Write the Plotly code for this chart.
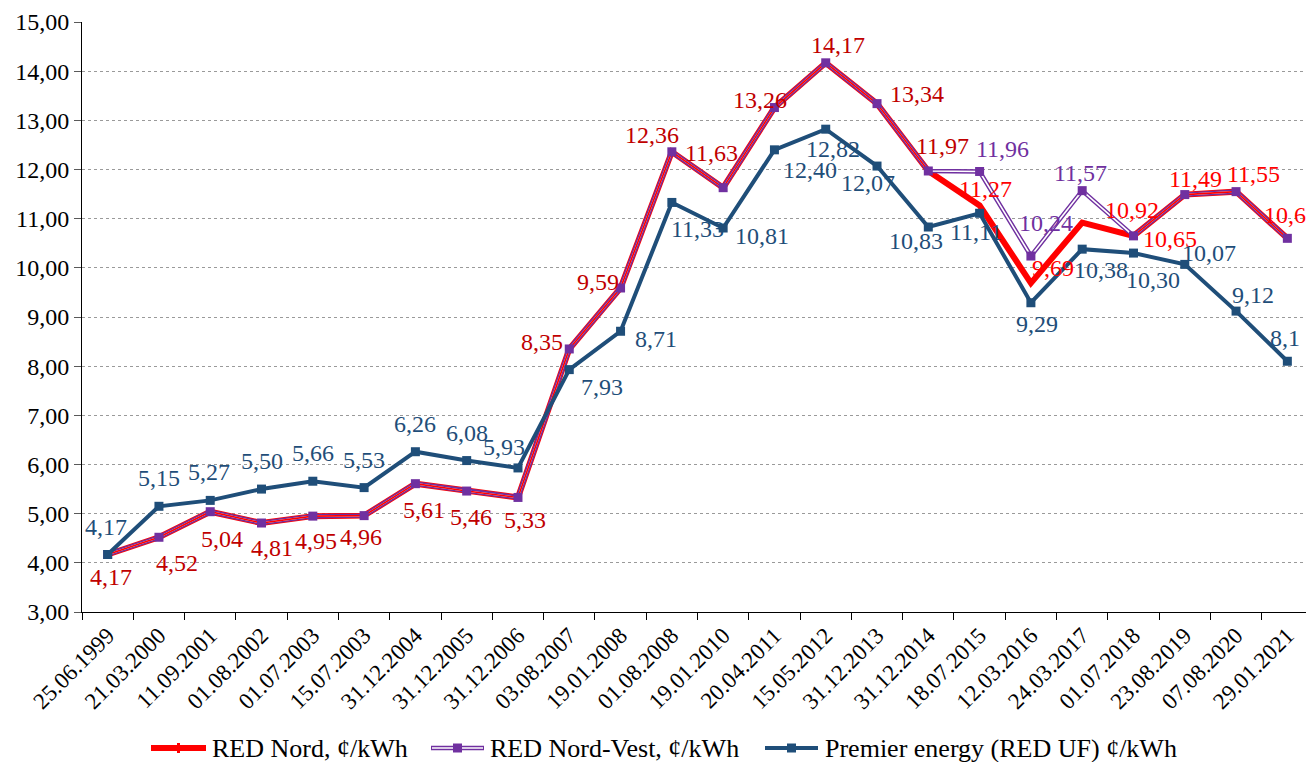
import plotly.graph_objects as go

dates = ["25.06.1999", "21.03.2000", "11.09.2001", "01.08.2002", "01.07.2003", "15.07.2003",
         "31.12.2004", "31.12.2005", "31.12.2006", "03.08.2007", "19.01.2008", "01.08.2008",
         "19.01.2010", "20.04.2011", "15.05.2012", "31.12.2013", "31.12.2014", "18.07.2015",
         "12.03.2016", "24.03.2017", "01.07.2018", "23.08.2019", "07.08.2020", "29.01.2021"]

red_nord = [4.17, 4.52, 5.04, 4.81, 4.95, 4.96, 5.61, 5.46, 5.33, 8.35, 9.59, 12.36,
            11.63, 13.26, 14.17, 13.34, 11.97, 11.27, 9.69, 10.92, 10.65, 11.49, 11.55, 10.6]
red_nord_vest = [4.17, 4.52, 5.04, 4.81, 4.95, 4.96, 5.61, 5.46, 5.33, 8.35, 9.59, 12.36,
                 11.63, 13.26, 14.17, 13.34, 11.97, 11.96, 10.24, 11.57, 10.65, 11.49, 11.55, 10.6]
premier = [4.17, 5.15, 5.27, 5.50, 5.66, 5.53, 6.26, 6.08, 5.93, 7.93, 8.71, 11.33,
           10.81, 12.40, 12.82, 12.07, 10.83, 11.11, 9.29, 10.38, 10.30, 10.07, 9.12, 8.1]

names = ["RED Nord, ¢/kWh", "RED Nord-Vest, ¢/kWh", "Premier energy (RED UF) ¢/kWh"]
one_decimal_idx = {23}  # last values shown with one decimal

# label offsets (screen px: dx right, dy down)
red_off = [(3, 23), (18, 26), (12, 27), (10, 25), (3, 25), (-3, 21), (9, 26), (4, 26), (7, 23),
           (-27, -7), (-23, -6), (-20, -17), (-12, -35), (-14, -8), (12, -18), (40, -10),
           (14, -25), (6, -16), (22, -15), (50, -13), (37, 3), (11, -16), (17, -18), (-2, -23)]
blue_off = [(-2, -27), (0, -28), (-1, -28), (0, -28), (0, -28), (0, -28), (0, -28), (0, -28),
            (-14, -21), (33, 17), (35, 8), (26, 27), (39, 8), (36, 20), (7, 20), (-9, 17),
            (-12, 14), (-4, 19), (6, 21), (19, 21), (20, 27), (24, -11), (17, -16), (-2, -23)]
vest_off = {17: (23, -22), 18: (15, -33), 19: (-2, -18)}

RED = "#FF0000"
DARKRED = "#C00000"
PURPLE = "#7030A0"
BLUE = "#1F4E79"
FONT = "Liberation Serif"

# the page body adds an 8px margin, so the figure is laid out 8px smaller / shifted
OFF = 8
W, H = 1314 - OFF, 762 - OFF
ML, MR, MT = 82 - OFF, 1, 22 - OFF
MB = H - (612 - OFF)
PW, PH = W - ML - MR, H - MT - MB


def px2x(px):
    return (px - OFF - ML) / PW


def py2y(py):
    return (H - MB - (py - OFF)) / PH


def fmt(v, i):
    s = f"{v:.1f}" if i in one_decimal_idx else f"{v:.2f}"
    return s.replace(".", ",")


fig = go.Figure()
fig.add_trace(go.Scatter(x=dates, y=red_nord, mode="lines", name=names[0],
                         line=dict(color=RED, width=6), showlegend=False))
fig.add_trace(go.Scatter(x=dates, y=red_nord_vest, mode="lines", name=names[1],
                         line=dict(color=PURPLE, width=4.5), showlegend=False))
fig.add_trace(go.Scatter(x=dates, y=red_nord_vest, mode="lines", showlegend=False,
                         line=dict(color="white", width=1.6), hoverinfo="skip"))
fig.add_trace(go.Scatter(x=dates, y=red_nord, mode="lines", showlegend=False,
                         line=dict(color=RED, width=1.6), hoverinfo="skip"))
fig.add_trace(go.Scatter(x=dates, y=red_nord_vest, mode="markers", showlegend=False,
                         marker=dict(symbol="square", size=9, color=PURPLE), hoverinfo="skip"))
fig.add_trace(go.Scatter(x=dates, y=premier, mode="lines+markers", name=names[2],
                         line=dict(color=BLUE, width=4), showlegend=False,
                         marker=dict(symbol="square", size=9, color=BLUE)))

ann = []
for i, (d, v) in enumerate(zip(dates, red_nord)):
    dx, dy = red_off[i]
    ann.append(dict(x=d, y=v, text=fmt(v, i), showarrow=False, xshift=dx, yshift=-dy,
                    font=dict(family=FONT, size=24, color=DARKRED if i < 17 else RED)))
for i, (dx, dy) in vest_off.items():
    v = red_nord_vest[i]
    ann.append(dict(x=dates[i], y=v, text=fmt(v, i), showarrow=False, xshift=dx, yshift=-dy,
                    font=dict(family=FONT, size=24, color=PURPLE)))
for i, (d, v) in enumerate(zip(dates, premier)):
    dx, dy = blue_off[i]
    ann.append(dict(x=d, y=v, text=fmt(v, i), showarrow=False, xshift=dx, yshift=-dy,
                    font=dict(family=FONT, size=24, color=BLUE)))

# custom legend (bottom)
ly = py2y(748)
legend_items = [  # (symbol start px, symbol end px, text start px) in reference pixels
    (151, 206, 210),
    (431, 484, 488),
    (765, 818, 823),
]
shapes = []
for k, (s0, s1, t0) in enumerate(legend_items):
    if k == 0:
        shapes.append(dict(type="line", xref="paper", yref="paper", x0=px2x(s0), x1=px2x(s1),
                           y0=ly, y1=ly, line=dict(color=RED, width=6)))
        shapes.append(dict(type="rect", xref="paper", yref="paper",
                           x0=px2x((s0 + s1) / 2 - 1.5), x1=px2x((s0 + s1) / 2 + 1.5),
                           y0=py2y(753), y1=py2y(743), line=dict(width=0), fillcolor=RED))
    elif k == 1:
        shapes.append(dict(type="line", xref="paper", yref="paper", x0=px2x(s0), x1=px2x(s1),
                           y0=ly, y1=ly, line=dict(color=PURPLE, width=4.5)))
        shapes.append(dict(type="line", xref="paper", yref="paper", x0=px2x(s0 + 1), x1=px2x(s1 - 1),
                           y0=ly, y1=ly, line=dict(color="white", width=1.6)))
    else:
        shapes.append(dict(type="line", xref="paper", yref="paper", x0=px2x(s0), x1=px2x(s1),
                           y0=ly, y1=ly, line=dict(color=BLUE, width=4)))
    if k > 0:
        c = PURPLE if k == 1 else BLUE
        m = (s0 + s1) / 2
        shapes.append(dict(type="rect", xref="paper", yref="paper",
                           x0=px2x(m - 4.5), x1=px2x(m + 4.5), y0=py2y(752.5), y1=py2y(743.5),
                           line=dict(width=0), fillcolor=c))
    ann.append(dict(xref="paper", yref="paper", x=px2x(t0), y=ly, xanchor="left", yanchor="middle",
                    text=names[k], showarrow=False,
                    font=dict(family=FONT, size=26, color="black")))

fig.update_layout(
    width=W, height=H,
    margin=dict(l=ML, r=MR, t=MT, b=MB),
    paper_bgcolor="white", plot_bgcolor="white",
    separators=", ",
    font=dict(family=FONT, color="black"),
    annotations=ann,
    shapes=shapes,
    showlegend=False,
)
fig.update_xaxes(type="category", range=[-0.5, 23.5], tickangle=-45, automargin=False,
                 tickfont=dict(family=FONT, size=23, color="black"),
                 showline=True, linecolor="black", linewidth=1,
                 ticks="outside", ticklen=7, tickcolor="black", tickson="boundaries",
                 showgrid=False, zeroline=False)
fig.update_yaxes(range=[3, 15], dtick=1, tick0=3, tickformat=".2f", automargin=False,
                 tickfont=dict(family=FONT, size=24, color="black"),
                 showline=True, linecolor="black", linewidth=1,
                 ticks="outside", ticklen=7, tickcolor="#595959",
                 showgrid=True, gridcolor="#9A9A9A", griddash="dot", gridwidth=1,
                 zeroline=False)

fig.write_html("out.html")
